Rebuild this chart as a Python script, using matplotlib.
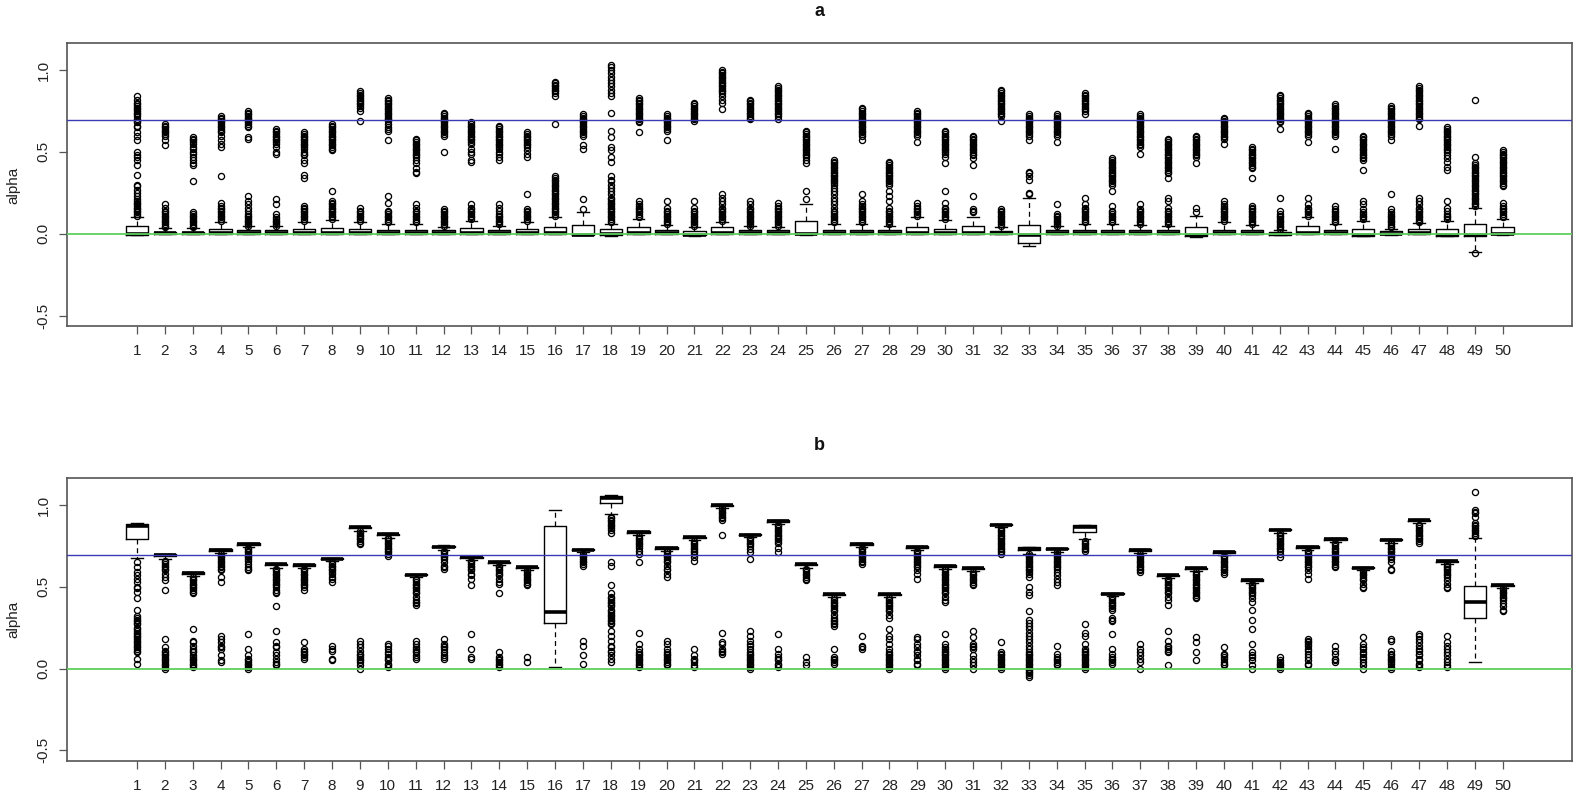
import matplotlib
matplotlib.use('Agg')
import matplotlib.pyplot as plt

plt.rcParams['font.family'] = ['Liberation Sans', 'DejaVu Sans']

GROUPS = [str(i) for i in range(1, 51)]
Y_TICKS = [-0.5, 0.0, 0.5, 1.0]
Y_TICK_LABELS = ['-0.5', '0.0', '0.5', '1.0']
BLUE_REF = 0.693
GREEN_REF = 0.0

# ---------------- panel a ----------------
A_Q1 = [-.005, 0, 0, 0, 0, 0, 0, 0, 0, 0, 0, 0, 0, 0, 0, 0, -.008, -.005, 0, 0,
        -.01, 0, 0, 0, -.004, 0, 0, 0, 0, 0, 0, 0, -.059, 0, 0, 0, 0, 0, -.014, 0,
        0, -.008, 0, 0, -.012, -.004, 0, -.012, -.012, -.004]
A_MED = [0, .003, .003, .005, .004, .004, .005, .005, .005, .004, .004, .004, .005, .004, .005, .005, -.005, 0, .005, .004,
         -.005, .005, .004, .004, 0, .004, .004, .004, .005, .005, .005, .003, -.005, .004, .004, .004, .004, .004, -.01, .004,
         .004, -.004, .005, .004, -.008, 0, .004, -.008, -.005, 0]
A_Q3 = [.045, .012, .012, .03, .02, .02, .03, .035, .03, .025, .025, .02, .035, .02, .03, .04, .053, .03, .04, .02,
        .018, .04, .02, .02, .075, .02, .02, .02, .04, .03, .045, .015, .053, .02, .02, .02, .02, .02, .04, .025,
        .02, .01, .045, .02, .027, .015, .03, .03, .057, .04]
A_LO = [-.01, -.003, -.003, -.003, -.003, -.003, -.003, -.003, -.003, -.003, -.003, -.003, -.003, -.003, -.003, -.003, -.01, -.015, -.003, -.003,
        -.012, -.003, -.003, -.003, -.006, -.003, -.003, -.003, -.003, -.003, -.003, -.003, -.075, -.003, -.003, -.003, -.003, -.003, -.017, -.003,
        -.003, -.01, -.003, -.003, -.015, -.006, -.003, -.015, -.11, -.006]
A_HI = [.105, .035, .035, .07, .045, .045, .07, .085, .07, .06, .06, .04, .08, .05, .07, .1, .13, .06, .09, .055,
        .04, .07, .045, .04, .18, .06, .06, .05, .1, .085, .1, .04, .22, .045, .06, .06, .055, .05, .11, .07,
        .055, .025, .1, .06, .08, .03, .065, .08, .16, .09]
A_FLIERS = [
    [.11,.12,.13,.14,.15,.16,.17,.18,.19,.20,.21,.23,.25,.27,.29,.30,.36,.42,.45,.47,.48,.50,.57,.60,.62,.65,.66,.68,.69,.70,.72,.73,.74,.75,.76,.77,.78,.79,.80,.82,.84],
    [.04,.05,.06,.07,.08,.09,.10,.11,.12,.13,.14,.16,.18,.54,.57,.60,.61,.62,.63,.64,.65,.66,.67],
    [.04,.05,.06,.07,.08,.09,.10,.11,.12,.13,.32,.42,.43,.45,.47,.49,.50,.52,.53,.55,.56,.57,.58,.59],
    [.08,.09,.10,.11,.12,.13,.14,.15,.16,.17,.19,.35,.53,.55,.57,.60,.62,.63,.64,.65,.66,.67,.68,.69,.70,.71,.72],
    [.05,.06,.07,.08,.09,.10,.11,.12,.14,.16,.18,.20,.23,.58,.59,.65,.66,.67,.68,.69,.70,.71,.72,.73,.74,.75],
    [.05,.06,.07,.08,.09,.10,.12,.18,.21,.49,.50,.53,.55,.56,.57,.58,.59,.60,.61,.62,.63,.64],
    [.08,.09,.10,.11,.12,.13,.14,.15,.16,.17,.34,.36,.43,.45,.48,.49,.50,.52,.53,.54,.55,.56,.57,.58,.59,.60,.61,.62],
    [.09,.10,.11,.12,.13,.14,.15,.16,.17,.18,.19,.20,.26,.51,.52,.53,.54,.55,.56,.57,.58,.59,.60,.61,.62,.63,.64,.65,.66,.67],
    [.08,.09,.10,.11,.12,.13,.14,.16,.69,.75,.77,.78,.79,.80,.81,.82,.83,.84,.85,.86,.87],
    [.07,.08,.09,.10,.11,.12,.13,.14,.19,.23,.57,.63,.64,.65,.67,.69,.70,.71,.72,.73,.74,.75,.76,.77,.78,.79,.80,.81,.82,.83],
    [.07,.08,.09,.10,.11,.12,.13,.14,.16,.18,.37,.38,.40,.43,.45,.47,.48,.49,.50,.51,.52,.53,.54,.55,.56,.57,.58],
    [.05,.06,.07,.08,.09,.10,.11,.12,.13,.14,.15,.50,.60,.61,.62,.63,.64,.65,.66,.67,.68,.69,.70,.71,.72,.73,.74],
    [.09,.10,.11,.12,.13,.14,.15,.16,.18,.44,.45,.49,.50,.52,.55,.56,.57,.58,.59,.60,.61,.62,.63,.64,.65,.66,.67,.68],
    [.06,.07,.08,.09,.10,.11,.12,.14,.16,.18,.45,.47,.49,.50,.52,.53,.54,.55,.56,.57,.58,.59,.60,.61,.62,.63,.64,.65,.66],
    [.08,.09,.10,.11,.12,.13,.14,.15,.24,.47,.49,.51,.53,.54,.55,.56,.57,.58,.59,.60,.61,.62],
    [.11,.12,.13,.14,.15,.16,.17,.18,.19,.20,.21,.22,.23,.24,.25,.26,.27,.28,.29,.30,.31,.32,.33,.34,.35,.67,.84,.86,.87,.88,.89,.90,.91,.92,.93],
    [.15,.21,.52,.54,.60,.61,.62,.63,.64,.65,.66,.67,.68,.69,.70,.71,.72,.73],
    [.07,.08,.09,.10,.11,.12,.13,.14,.15,.16,.17,.18,.19,.20,.21,.22,.24,.26,.28,.30,.32,.33,.35,.44,.47,.51,.53,.59,.63,.74,.84,.86,.88,.90,.92,.94,.96,.98,1.00,1.02,1.03],
    [.10,.11,.12,.13,.14,.15,.16,.17,.18,.20,.62,.68,.69,.70,.71,.72,.73,.74,.75,.76,.77,.78,.79,.80,.81,.82,.83],
    [.06,.07,.08,.09,.10,.11,.12,.13,.14,.16,.20,.57,.63,.64,.65,.66,.67,.68,.69,.70,.71,.72,.73],
    [.05,.06,.07,.08,.09,.10,.11,.12,.13,.14,.16,.20,.69,.70,.71,.72,.73,.74,.75,.76,.77,.78,.79,.80],
    [.08,.09,.10,.11,.12,.13,.14,.15,.16,.18,.20,.22,.24,.76,.80,.82,.84,.86,.87,.88,.89,.90,.91,.92,.93,.94,.95,.96,.97,.98,.99,1.00],
    [.05,.06,.07,.08,.09,.10,.11,.12,.13,.14,.15,.16,.18,.20,.70,.71,.72,.73,.74,.75,.76,.77,.78,.79,.80,.81,.82],
    [.05,.06,.07,.08,.09,.10,.11,.12,.13,.14,.15,.16,.17,.19,.70,.72,.73,.74,.75,.76,.77,.78,.79,.80,.81,.82,.83,.84,.85,.86,.87,.88,.89,.90],
    [.21,.26,.43,.45,.47,.48,.49,.50,.51,.52,.53,.54,.55,.56,.57,.58,.59,.60,.61,.62,.63],
    [.07,.08,.09,.10,.11,.12,.13,.14,.16,.18,.20,.22,.24,.26,.28,.30,.31,.32,.33,.34,.35,.36,.37,.38,.39,.40,.41,.42,.43,.44,.45],
    [.07,.08,.09,.10,.11,.12,.13,.14,.15,.16,.17,.18,.20,.24,.57,.60,.61,.62,.63,.64,.65,.66,.67,.68,.69,.70,.71,.72,.73,.74,.75,.76,.77],
    [.06,.07,.08,.09,.10,.11,.12,.13,.14,.16,.20,.23,.26,.30,.31,.32,.33,.34,.35,.36,.37,.38,.39,.40,.41,.42,.43,.44],
    [.11,.12,.13,.14,.15,.16,.17,.19,.56,.60,.61,.62,.63,.64,.65,.66,.67,.68,.69,.70,.71,.72,.73,.74,.75],
    [.09,.10,.11,.12,.13,.14,.15,.16,.19,.26,.43,.47,.49,.50,.51,.52,.53,.54,.55,.56,.57,.58,.59,.60,.61,.62,.63],
    [.13,.14,.15,.23,.42,.46,.48,.49,.50,.51,.52,.53,.54,.55,.56,.57,.58,.59,.60],
    [.05,.06,.07,.08,.09,.10,.11,.12,.13,.14,.15,.69,.72,.73,.74,.75,.76,.77,.78,.79,.80,.81,.82,.83,.84,.85,.86,.87,.88],
    [.24,.25,.33,.35,.37,.38,.57,.60,.61,.62,.63,.64,.65,.66,.67,.68,.69,.70,.71,.72,.73],
    [.05,.06,.07,.08,.09,.10,.11,.12,.18,.56,.60,.61,.62,.63,.64,.65,.66,.67,.68,.69,.70,.71,.72,.73],
    [.07,.08,.09,.10,.11,.12,.13,.14,.15,.16,.18,.22,.73,.75,.76,.77,.78,.79,.80,.81,.82,.83,.84,.85,.86],
    [.07,.08,.09,.10,.11,.12,.13,.14,.17,.26,.30,.31,.32,.33,.34,.35,.36,.37,.38,.39,.40,.41,.42,.43,.44,.45,.46],
    [.06,.07,.08,.09,.10,.11,.12,.13,.14,.15,.18,.49,.53,.54,.55,.56,.57,.58,.59,.60,.61,.62,.63,.64,.65,.66,.67,.68,.69,.70,.71,.72,.73],
    [.06,.07,.08,.09,.10,.11,.12,.13,.14,.16,.20,.22,.34,.37,.38,.39,.40,.41,.42,.43,.44,.45,.46,.47,.48,.49,.50,.51,.52,.53,.54,.55,.56,.57,.58],
    [.13,.16,.43,.47,.48,.49,.50,.51,.52,.53,.54,.55,.56,.57,.58,.59,.60],
    [.08,.09,.10,.11,.12,.13,.14,.15,.16,.17,.18,.20,.55,.58,.59,.60,.61,.62,.63,.64,.65,.66,.67,.68,.69,.70,.71],
    [.06,.07,.08,.09,.10,.11,.12,.13,.14,.15,.16,.17,.34,.40,.41,.42,.43,.44,.45,.46,.47,.48,.49,.50,.51,.52,.53],
    [.03,.04,.05,.06,.07,.08,.09,.10,.11,.12,.14,.22,.64,.68,.69,.70,.71,.72,.73,.74,.75,.76,.77,.78,.79,.80,.81,.82,.83,.84,.85],
    [.11,.12,.13,.14,.15,.16,.18,.22,.56,.60,.61,.62,.63,.64,.65,.66,.67,.68,.69,.70,.71,.72,.73,.74],
    [.07,.08,.09,.10,.11,.12,.13,.14,.15,.17,.52,.60,.61,.62,.63,.64,.65,.66,.67,.68,.69,.70,.71,.72,.73,.74,.75,.76,.77,.78,.79],
    [.09,.10,.11,.12,.13,.15,.18,.20,.39,.45,.46,.47,.48,.49,.50,.51,.52,.53,.54,.55,.56,.57,.58,.59,.60],
    [.04,.05,.06,.07,.08,.09,.10,.11,.12,.13,.15,.24,.57,.60,.61,.62,.63,.64,.65,.66,.67,.68,.69,.70,.71,.72,.73,.74,.75,.76,.77,.78],
    [.07,.08,.09,.10,.11,.12,.13,.14,.15,.16,.18,.20,.22,.66,.70,.71,.72,.73,.74,.75,.76,.77,.78,.79,.80,.81,.82,.83,.84,.85,.86,.87,.88,.89,.90],
    [.09,.10,.11,.12,.14,.16,.20,.39,.41,.44,.46,.48,.50,.51,.52,.53,.54,.55,.56,.57,.58,.59,.60,.61,.62,.63,.64,.65],
    [-.12,.17,.18,.19,.20,.21,.22,.23,.24,.25,.26,.27,.28,.29,.30,.31,.32,.33,.34,.35,.36,.37,.38,.39,.40,.41,.42,.43,.47,.82],
    [.10,.11,.12,.13,.14,.15,.16,.17,.19,.29,.30,.31,.32,.33,.34,.35,.36,.37,.38,.39,.40,.41,.42,.43,.44,.45,.46,.47,.48,.49,.50,.51],
]

# ---------------- panel b ----------------
B_Q1 = [.794, .688, .578, .719, .756, .631, .627, .668, .857, .815, .57, .741, .676, .645, .615, .281, .723, 1.01, .831, .733,
        .798, .994, .815, .898, .631, .448, .757, .448, .739, .623, .609, .876, .724, .729, .833, .454, .721, .566, .609, .709,
        .538, .845, .739, .788, .613, .784, .902, .652, .31, .505]
B_MED = [.872, .695, .585, .725, .762, .637, .633, .673, .864, .821, .575, .746, .681, .65, .62, .344, .728, 1.045, .836, .739,
         .803, .999, .82, .903, .637, .453, .763, .453, .744, .628, .614, .881, .733, .734, .868, .459, .726, .571, .614, .714,
         .543, .85, .744, .793, .618, .789, .907, .657, .405, .51]
B_Q3 = [.884, .699, .589, .729, .766, .642, .637, .676, .868, .825, .578, .75, .684, .654, .623, .874, .731, 1.055, .839, .743,
        .806, 1.002, .823, .906, .64, .456, .766, .456, .747, .631, .617, .884, .741, .737, .878, .462, .729, .574, .617, .717,
        .546, .853, .747, .796, .621, .792, .91, .66, .507, .513]
B_LO = [.678, .668, .565, .705, .742, .617, .613, .655, .843, .801, .557, .727, .663, .632, .602, .01, .71, .945, .818, .719,
        .785, .981, .802, .885, .618, .435, .744, .435, .726, .61, .596, .863, .70, .716, .792, .441, .708, .553, .596, .696,
        .525, .832, .726, .775, .60, .771, .889, .639, .043, .492]
B_HI = [.888, .702, .592, .732, .769, .645, .64, .679, .871, .828, .581, .753, .687, .657, .626, .967, .734, 1.06, .842, .746,
        .809, 1.005, .826, .909, .643, .459, .769, .459, .75, .634, .62, .887, .745, .74, .881, .465, .732, .577, .62, .72,
        .549, .856, .75, .799, .624, .795, .913, .663, .796, .516]
B_FLIERS = [
    [.03,.06,.10,.11,.12,.13,.14,.15,.16,.17,.18,.19,.20,.21,.22,.23,.24,.25,.27,.28,.29,.30,.31,.32,.36,.43,.47,.49,.50,.53,.55,.57,.59,.62,.65],
    [.00,.01,.02,.03,.04,.05,.06,.07,.08,.09,.10,.11,.13,.18,.48,.54,.56,.58,.60,.61,.62,.63,.64,.65,.66],
    [.01,.02,.03,.04,.05,.06,.07,.08,.10,.11,.12,.14,.16,.17,.24,.46,.47,.48,.49,.50,.51,.52,.53,.54,.55,.56],
    [.04,.05,.08,.12,.13,.14,.16,.18,.20,.53,.56,.60,.61,.62,.63,.64,.65,.66,.67,.68,.69,.70],
    [.00,.01,.02,.03,.04,.05,.06,.08,.12,.21,.60,.61,.62,.64,.66,.67,.68,.69,.70,.71,.72,.73,.74],
    [.02,.03,.04,.06,.08,.10,.13,.14,.16,.23,.38,.46,.47,.48,.50,.51,.52,.53,.54,.55,.56,.57,.58,.59,.60,.61],
    [.06,.07,.08,.09,.10,.11,.12,.16,.48,.50,.51,.52,.53,.54,.55,.56,.57,.58,.59,.60,.61],
    [.05,.06,.11,.12,.14,.53,.55,.56,.58,.59,.60,.61,.62,.63,.64,.65],
    [.00,.02,.04,.05,.06,.07,.08,.09,.11,.13,.15,.17,.76,.77,.78,.79,.80,.81,.82,.83,.84],
    [.01,.02,.03,.05,.06,.07,.09,.10,.12,.14,.15,.69,.70,.71,.72,.73,.74,.75,.76,.77,.78,.79,.80],
    [.06,.07,.08,.10,.11,.12,.13,.15,.17,.39,.40,.41,.42,.44,.46,.47,.48,.49,.50,.51,.52,.53,.54,.55],
    [.06,.07,.08,.10,.12,.13,.14,.15,.18,.61,.62,.63,.65,.67,.68,.69,.70,.71,.72],
    [.06,.07,.12,.21,.51,.55,.57,.58,.60,.61,.62,.63,.64,.65,.66],
    [.01,.02,.03,.04,.05,.06,.07,.10,.46,.52,.53,.55,.57,.58,.59,.60,.61,.62,.63],
    [.04,.07,.51,.52,.53,.54,.55,.56,.57,.58,.59,.60],
    [],
    [.03,.08,.14,.17,.63,.64,.65,.66,.67,.68,.69,.70],
    [.04,.06,.08,.10,.11,.13,.14,.17,.20,.23,.27,.28,.29,.30,.31,.32,.33,.34,.35,.36,.38,.39,.40,.41,.42,.43,.44,.46,.51,.63,.65,.83,.85,.86,.87,.88,.89,.90,.91,.92,.93],
    [.01,.02,.03,.04,.05,.06,.07,.08,.09,.10,.12,.15,.22,.65,.70,.72,.74,.75,.76,.77,.78,.79,.80,.81],
    [.02,.03,.04,.05,.06,.07,.08,.09,.10,.12,.15,.17,.56,.58,.60,.61,.63,.65,.66,.67,.68,.69,.70,.71,.72],
    [.01,.02,.04,.05,.06,.08,.12,.66,.68,.70,.71,.72,.73,.74,.75,.76,.77,.78],
    [.09,.10,.11,.12,.15,.16,.22,.82,.91,.92,.93,.94,.95,.96,.97,.98],
    [.00,.01,.02,.03,.04,.05,.06,.07,.08,.09,.10,.12,.14,.15,.17,.20,.23,.67,.71,.73,.75,.76,.77,.78,.79,.80],
    [.01,.02,.03,.05,.06,.07,.09,.12,.21,.71,.74,.77,.78,.79,.80,.81,.82,.83,.84,.85,.86,.87,.88],
    [.02,.04,.07,.54,.55,.56,.57,.58,.59,.60,.61],
    [.03,.04,.05,.06,.07,.12,.26,.27,.28,.29,.30,.31,.33,.35,.36,.37,.38,.39,.40,.41,.42,.43],
    [.12,.13,.14,.20,.64,.65,.66,.67,.68,.69,.70,.71,.72,.73,.74],
    [.00,.01,.02,.03,.04,.05,.06,.07,.08,.09,.10,.12,.15,.18,.20,.24,.31,.33,.35,.36,.37,.38,.39,.40,.41,.42,.43],
    [.02,.03,.05,.06,.08,.10,.11,.13,.15,.18,.19,.55,.58,.60,.62,.63,.64,.65,.66,.67,.68,.69,.70,.71,.72],
    [.00,.01,.02,.03,.04,.05,.06,.07,.08,.09,.10,.11,.12,.13,.15,.21,.41,.42,.44,.46,.47,.48,.49,.50,.51,.52,.53,.54,.55,.56,.57,.58,.59,.60,.61],
    [.00,.02,.04,.06,.08,.12,.13,.14,.15,.19,.23,.51,.52,.53,.54,.55,.56,.57,.58,.59],
    [.00,.01,.02,.03,.04,.05,.06,.07,.08,.09,.10,.16,.70,.71,.72,.73,.74,.75,.76,.77,.78,.79,.80,.81,.82,.83,.84,.85,.86],
    [-.05,-.04,-.03,-.02,-.01,.00,.01,.02,.03,.04,.05,.06,.07,.08,.09,.10,.12,.14,.16,.18,.20,.22,.24,.26,.28,.30,.35,.45,.47,.50,.56,.58,.59,.60,.61,.62,.63,.64,.65,.66,.67,.68,.69,.70],
    [.02,.03,.04,.05,.06,.07,.09,.14,.51,.53,.55,.57,.59,.61,.62,.63,.64,.65,.66,.67,.68,.69,.70,.71],
    [.00,.01,.02,.03,.04,.05,.06,.07,.08,.09,.10,.11,.12,.15,.20,.22,.27,.72,.73,.74,.75,.76,.77,.78],
    [.03,.04,.05,.06,.07,.09,.12,.21,.29,.30,.31,.36,.37,.38,.39,.40,.41,.42,.43,.44],
    [.00,.04,.06,.08,.10,.12,.15,.59,.60,.61,.62,.63,.64,.65,.66,.67,.68,.69,.70],
    [.02,.10,.11,.12,.13,.14,.17,.23,.39,.42,.44,.46,.47,.48,.49,.50,.51,.52,.53,.54,.55],
    [.05,.10,.16,.19,.43,.44,.45,.46,.47,.48,.49,.50,.51,.52,.53,.54,.55,.56,.57,.58,.59],
    [.02,.03,.04,.06,.07,.08,.09,.13,.58,.59,.60,.61,.62,.63,.64,.65,.66,.67,.68,.69],
    [.00,.02,.05,.07,.08,.10,.15,.24,.30,.36,.41,.43,.45,.46,.47,.48,.49,.50,.51,.52],
    [.00,.01,.02,.03,.04,.05,.07,.68,.70,.72,.73,.74,.75,.76,.77,.78,.79,.80,.81,.82,.83],
    [.02,.03,.05,.07,.09,.11,.12,.14,.15,.16,.17,.18,.55,.58,.60,.62,.63,.64,.65,.66,.67,.68,.69,.70,.71,.72],
    [.04,.05,.06,.09,.11,.14,.62,.63,.64,.65,.66,.67,.68,.69,.70,.71,.72,.73,.74,.75,.76,.77],
    [.00,.02,.04,.06,.07,.09,.10,.12,.13,.15,.19,.49,.50,.52,.54,.55,.56,.57,.58,.59,.60],
    [.00,.01,.03,.04,.05,.06,.07,.08,.09,.11,.17,.18,.60,.61,.65,.67,.68,.69,.70,.71,.72,.73,.74,.75,.76,.77],
    [.01,.02,.03,.05,.06,.08,.09,.11,.12,.14,.16,.18,.20,.21,.77,.78,.79,.80,.81,.82,.83,.84,.85,.86,.87,.88],
    [.01,.02,.04,.06,.08,.10,.12,.14,.16,.20,.49,.50,.52,.54,.56,.57,.58,.59,.60,.61,.62,.63,.64],
    [.81,.82,.83,.84,.85,.86,.87,.88,.89,.93,.95,.96,.97,1.08],
    [.35,.36,.38,.40,.42,.43,.44,.45,.46,.47,.48,.49],
]

W, H = 1581, 800
fig = plt.figure(figsize=(W / 100, H / 100), dpi=100)


def rect(l, t, r, b):
    return [l / W, 1 - b / H, (r - l) / W, (b - t) / H]


SPINE = '#555555'


def draw_panel(ax, q1, med, q3, lo, hi, fliers):
    stats = []
    for i, lab in enumerate(GROUPS):
        stats.append(dict(label=lab, q1=q1[i], med=med[i], q3=q3[i],
                          whislo=lo[i], whishi=hi[i], fliers=fliers[i]))
    pos = list(range(1, len(GROUPS) + 1))
    ax.bxp(stats, positions=pos, widths=0.8, capwidths=0.42,
           boxprops=dict(color='black', lw=1.0),
           whiskerprops=dict(color='black', lw=0.9, linestyle=(0, (4, 3))),
           capprops=dict(color='black', lw=1.0),
           medianprops=dict(color='black', lw=2.6, solid_capstyle='butt'),
           flierprops=dict(marker='o', markerfacecolor='none', markeredgecolor='black',
                           markersize=4.4, markeredgewidth=0.95, linestyle='none'))
    ax.axhline(GREEN_REF, color='#5ecf5e', lw=1.3, zorder=6)
    ax.axhline(BLUE_REF, color='#3b3bb3', lw=1.0, zorder=6)
    ax.set_xlim(-1.5, 52.5)
    ax.set_ylim(-0.564, 1.164)
    ax.set_xticks(pos)
    ax.set_xticklabels(GROUPS)
    ax.set_yticks(Y_TICKS)
    ax.set_yticklabels(Y_TICK_LABELS, rotation=90, va='center')
    ax.tick_params(axis='both', length=6, width=0.9, color=SPINE, labelsize=11, labelcolor='#222222')
    ax.tick_params(axis='x', pad=7)
    ax.tick_params(axis='y', pad=6)
    for s in ax.spines.values():
        s.set_color(SPINE)
        s.set_linewidth(1.2)


axa = fig.add_axes(rect(67.3, 43.3, 1572.3, 326))
axb = fig.add_axes(rect(67.3, 478.3, 1572.3, 760.7))
draw_panel(axa, A_Q1, A_MED, A_Q3, A_LO, A_HI, A_FLIERS)
draw_panel(axb, B_Q1, B_MED, B_Q3, B_LO, B_HI, B_FLIERS)

fig.text(819 / W, 1 - 11 / H, 'a', ha='center', va='center', fontsize=13, fontweight='bold', color='#111111')
fig.text(819 / W, 1 - 445 / H, 'b', ha='center', va='center', fontsize=13, fontweight='bold', color='#111111')
fig.text(13 / W, 1 - 185 / H, 'alpha', ha='center', va='center', rotation=90, fontsize=11, color='#222222')
fig.text(13 / W, 1 - 619.5 / H, 'alpha', ha='center', va='center', rotation=90, fontsize=11, color='#222222')

fig.savefig('out.png', dpi=100)
